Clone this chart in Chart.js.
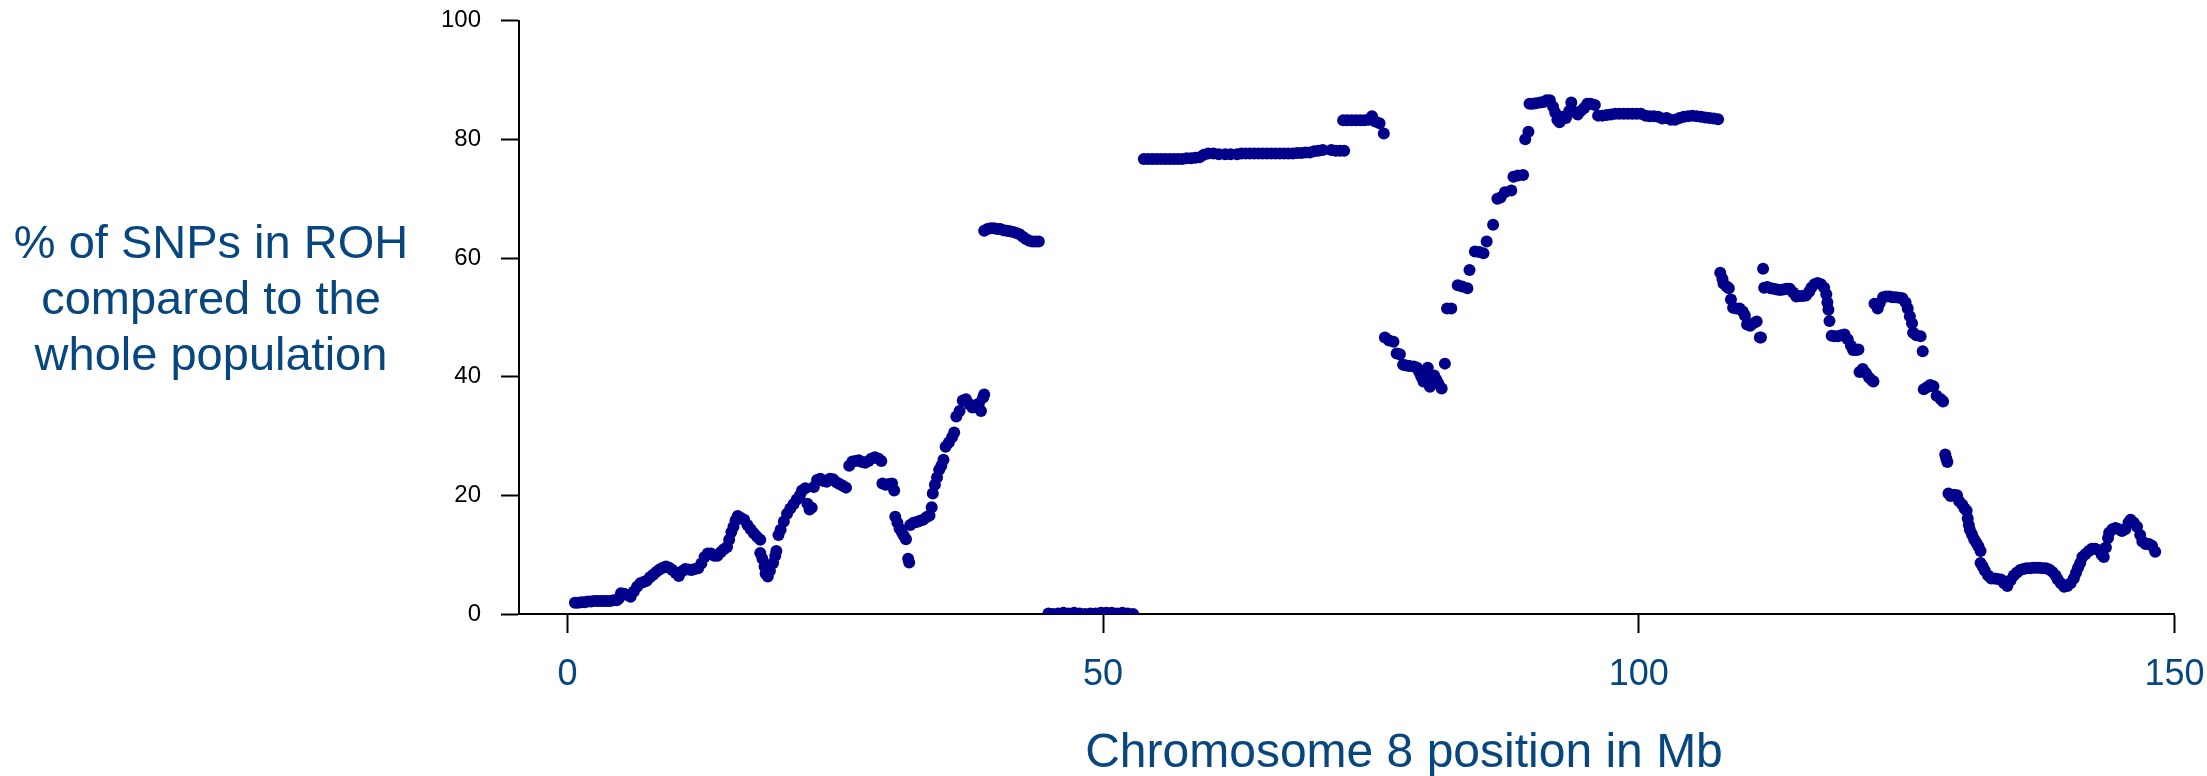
<!DOCTYPE html>
<html>
<head>
<meta charset="utf-8">
<script src="https://cdn.jsdelivr.net/npm/chart.js@4.4.1/dist/chart.umd.min.js"></script>
<style>
html, body { margin:0; padding:0; background:#fff; }
canvas { display:block; }
</style>
</head>
<body>
<canvas id="rohChart" width="2207" height="776"></canvas>
<script>
/* DATA: [position in Mb, % of SNPs in ROH] */
const snpPoints = [
  // 0 - 39 Mb
  [0.7,1.9],[1.0,1.9],[1.3,2.0],[1.6,2.0],[1.9,2.1],[2.2,2.1],[2.5,2.2],[2.8,2.2],[3.1,2.2],[3.4,2.2],
  [3.7,2.2],[4.0,2.2],[4.3,2.3],[4.6,2.3],[4.8,2.6],[5.0,3.5],[5.3,3.4],[5.6,3.2],[5.9,2.9],[6.2,3.8],
  [6.5,4.6],[6.8,5.2],[7.1,5.4],[7.4,5.6],[7.7,6.2],[8.0,6.6],[8.3,7.1],[8.6,7.5],[8.9,7.8],[9.2,8.0],
  [9.5,7.8],[9.8,7.4],[10.1,6.9],[10.4,6.4],[10.7,7.2],[11.0,7.6],[11.3,7.5],[11.6,7.4],[11.9,7.6],[12.2,7.7],
  [12.5,8.5],[12.8,9.6],[13.1,10.2],[13.4,10.2],[13.7,9.8],[14.0,9.8],[14.3,10.4],[14.6,10.9],[14.9,11.3],[15.1,12.5],
  [15.3,13.8],[15.5,14.7],[15.7,15.8],[15.9,16.5],[16.2,16.2],[16.5,15.9],[16.8,15.0],[17.1,14.3],[17.4,13.6],[17.7,13.0],
  [18.0,12.5],[18.0,10.3],[18.2,9.3],[18.4,8.0],[18.5,6.8],[18.7,6.3],[18.9,7.3],[19.2,8.6],[19.4,9.8],[19.5,10.6],
  [19.7,13.3],[19.9,14.2],[20.2,15.6],[20.5,16.9],[20.8,17.8],[21.1,18.5],[21.4,19.3],[21.7,20.0],[21.9,20.8],[22.2,21.2],
  [22.4,18.6],[22.6,17.6],[22.8,17.9],[23.0,21.4],[23.3,22.6],[23.6,22.8],[23.9,22.4],[24.2,22.3],[24.5,22.8],[24.8,22.7],
  [25.1,22.2],[25.4,21.9],[25.7,21.6],[26.0,21.3],[26.3,25.0],[26.6,25.7],[26.9,25.8],[27.2,25.9],[27.5,25.6],[27.8,25.5],
  [28.1,25.8],[28.4,26.2],[28.7,26.4],[29.0,26.2],[29.3,25.8],[29.4,22.0],[29.7,21.8],[30.0,21.9],[30.3,22.0],[30.5,20.8],
  [30.6,16.4],[30.8,15.4],[31.0,14.4],[31.2,13.8],[31.4,13.2],[31.6,12.6],[31.8,9.3],[31.9,8.7],[32.0,15.0],[32.3,15.4],
  [32.6,15.5],[32.9,15.7],[33.2,15.9],[33.5,16.3],[33.8,16.6],[34.0,18.0],[34.1,20.3],[34.3,21.8],[34.5,23.0],[34.7,24.3],
  [34.9,25.0],[35.1,26.0],[35.3,28.2],[35.6,28.9],[35.9,29.8],[36.1,30.6],[36.3,33.3],[36.6,34.2],[36.9,36.0],[37.2,36.2],
  [37.5,35.4],[37.8,34.8],[38.1,34.9],[38.4,35.5],[38.6,34.2],[38.8,36.5],[38.9,37.0],
  // 39 - 44 Mb
  [38.9,64.6],[39.2,64.9],[39.5,65.0],[39.8,65.0],[40.1,64.9],[40.4,64.9],[40.7,64.7],[41.0,64.6],[41.3,64.5],[41.6,64.4],
  [41.9,64.2],[42.2,64.0],[42.5,63.6],[42.8,63.2],[43.1,62.9],[43.4,62.8],[43.7,62.8],[44.0,62.8],
  // 45 - 53 Mb
  [44.9,0.1],[45.3,0.0],[45.8,0.1],[46.3,0.2],[46.8,0.1],[47.3,0.2],[47.8,0.1],[48.3,0.0],[48.8,0.1],[49.3,0.1],
  [49.8,0.2],[50.3,0.2],[50.8,0.2],[51.3,0.1],[51.8,0.2],[52.3,0.1],[52.8,0.0],
  // 54 - 76 Mb
  [53.8,76.7],[54.2,76.7],[54.6,76.7],[55.0,76.7],[55.4,76.7],[55.8,76.7],[56.2,76.7],[56.6,76.7],[57.0,76.7],[57.4,76.7],
  [57.8,76.8],[58.2,76.8],[58.6,76.9],[59.0,77.0],[59.4,77.4],[59.8,77.6],[60.3,77.6],[60.8,77.5],[61.4,77.5],[61.9,77.5],
  [62.5,77.5],[62.9,77.6],[63.3,77.6],[63.7,77.6],[64.1,77.6],[64.5,77.6],[64.9,77.6],[65.3,77.6],[65.7,77.6],[66.1,77.6],
  [66.5,77.6],[66.9,77.6],[67.3,77.6],[67.7,77.6],[68.1,77.7],[68.5,77.7],[68.9,77.8],[69.3,77.8],[69.7,78.0],[70.1,78.1],
  [70.5,78.2],[71.3,78.2],[71.7,78.1],[72.1,78.1],[72.5,78.1],
  [72.4,83.2],[72.8,83.2],[73.2,83.2],[73.6,83.2],[74.0,83.2],[74.4,83.2],[74.8,83.3],[75.1,83.9],[75.4,83.0],[75.8,82.7],
  [76.2,81.0],
  // 76 - 90 Mb
  [76.3,46.6],[76.7,46.1],[77.1,45.9],[77.4,43.9],[77.7,43.8],[78.0,42.0],[78.3,41.9],[78.6,41.8],[79.0,41.7],[79.3,41.5],
  [79.5,40.8],[79.7,40.0],[79.9,39.2],[80.1,40.6],[80.3,41.5],[80.4,39.5],[80.5,38.3],[80.7,39.0],[80.9,40.2],[81.1,39.5],
  [81.3,38.8],[81.6,38.0],[81.9,42.2],
  [82.1,51.5],[82.5,51.5],[83.1,55.4],[83.5,55.2],[84.0,54.9],[84.2,58.0],[84.7,61.1],[85.1,61.0],[85.5,60.8],[85.8,62.8],
  [86.4,65.6],[86.8,70.0],[87.1,70.2],[87.5,71.1],[88.1,71.4],[88.3,73.7],[88.7,73.9],[89.2,74.0],[89.4,80.0],[89.7,81.3],
  [89.8,86.0],
  // 90 - 107 Mb
  [90.1,86.0],[90.4,86.1],[90.8,86.2],[91.1,86.3],[91.4,86.6],[91.7,86.6],[92.0,85.5],[92.2,84.5],[92.4,83.3],[92.6,82.9],
  [92.9,83.8],[93.2,83.6],[93.5,84.8],[93.7,86.2],[94.0,84.6],[94.3,84.2],[94.6,84.8],[94.9,85.3],[95.2,86.0],[95.5,86.0],
  [95.9,85.8],[96.2,84.0],[96.6,84.0],[97.0,84.1],[97.4,84.2],[97.8,84.3],[98.2,84.3],[98.6,84.3],[99.0,84.3],[99.4,84.3],
  [99.8,84.3],[100.2,84.3],[100.6,84.0],[101.0,83.9],[101.4,83.9],[101.8,83.8],[102.2,83.5],[102.6,83.6],[103.0,83.3],[103.4,83.3],
  [103.8,83.6],[104.2,83.8],[104.6,83.9],[105.0,84.0],[105.4,83.9],[105.8,83.8],[106.2,83.7],[106.6,83.6],[107.0,83.5],[107.4,83.4],
  // 107 - 128 Mb
  [107.6,57.5],[107.8,56.5],[107.9,55.7],[108.2,55.2],[108.4,54.9],[108.6,53.0],[108.8,51.6],[109.1,51.5],[109.4,51.5],[109.7,51.0],
  [109.9,50.3],[110.1,48.8],[110.4,48.6],[110.7,49.0],[111.0,49.3],[111.3,46.6],[111.4,46.6],
  [111.6,58.2],[111.7,55.0],[112.0,55.1],[112.3,54.9],[112.6,54.8],[112.9,54.7],[113.2,54.6],[113.5,54.7],[113.8,54.8],[114.1,54.8],
  [114.4,54.2],[114.7,53.5],[115.0,53.6],[115.3,53.6],[115.6,53.7],[115.9,54.3],[116.1,55.0],[116.4,55.6],[116.7,55.8],[117.0,55.6],
  [117.3,55.0],[117.5,53.9],[117.6,52.5],[117.7,51.3],[117.8,49.4],[118.0,46.9],[118.3,46.8],[118.6,46.8],[118.9,47.0],[119.2,47.1],
  [119.5,46.3],[119.8,45.2],[120.0,44.5],[120.3,44.5],[120.5,44.6],[120.6,40.8],[120.9,41.3],[121.2,40.6],[121.5,39.8],[121.8,39.3],
  [121.9,39.2],
  [122.0,52.3],[122.3,51.5],[122.5,52.4],[122.8,53.4],[123.1,53.5],[123.4,53.5],[123.7,53.4],[124.0,53.4],[124.3,53.3],[124.6,53.2],
  [124.9,52.5],[125.1,51.5],[125.3,50.2],[125.5,49.0],[125.6,47.4],[125.9,47.0],[126.3,46.8],[126.5,44.3],[126.6,37.9],[126.9,38.2],
  [127.2,38.6],[127.5,38.4],[127.8,36.8],[128.2,36.2],[128.4,35.8],
  // 128 - 148 Mb
  [128.6,26.9],[128.7,26.2],[128.8,25.6],[128.9,20.3],[129.1,19.9],[129.4,20.1],[129.7,20.0],[129.9,19.0],[130.2,18.4],[130.4,17.8],
  [130.6,17.4],[130.7,16.1],[130.8,15.0],[130.9,14.2],[131.1,13.4],[131.3,12.6],[131.5,12.0],[131.7,11.4],[131.9,10.6],[131.9,8.6],
  [132.1,8.0],[132.3,7.3],[132.6,6.5],[132.9,6.0],[133.2,6.0],[133.5,5.9],[133.8,5.8],[134.1,5.2],[134.4,4.7],[134.7,5.7],
  [135.0,6.5],[135.3,7.0],[135.6,7.4],[135.9,7.6],[136.2,7.7],[136.5,7.7],[136.8,7.8],[137.1,7.8],[137.4,7.8],[137.7,7.7],
  [138.0,7.7],[138.3,7.5],[138.6,7.1],[138.9,6.5],[139.1,5.8],[139.4,5.2],[139.7,4.6],[140.0,4.7],[140.3,5.2],[140.6,6.0],
  [140.8,6.9],[141.0,7.8],[141.2,8.6],[141.4,9.6],[141.7,10.1],[142.0,10.6],[142.3,11.0],[142.6,11.0],[142.9,10.8],[143.2,10.0],
  [143.4,9.6],[143.6,11.2],[143.8,12.8],[143.9,13.7],[144.2,14.3],[144.5,14.5],[144.8,14.3],[145.1,14.0],[145.4,14.3],[145.7,15.4],
  [145.9,15.9],[146.2,15.4],[146.5,14.7],[146.8,13.3],[147.0,12.2],[147.3,11.8],[147.6,11.8],[147.9,11.5],[148.2,10.5]
];

const xTicks = [0, 50, 100, 150];
const yTicks = [0, 20, 40, 60, 80, 100];
const xTitle = "Chromosome 8 position in Mb";
const yTitle = ["% of SNPs in ROH", "compared to the", "whole population"];

const TITLE_BLUE = "#07467e";
const FONT = '"Liberation Sans", Arial, Helvetica, sans-serif';

Chart.defaults.font.family = FONT;

/* titles drawn as plain lines of text, like the original R plot */
const axisTitles = {
  id: "axisTitles",
  afterDraw(chart) {
    const ctx = chart.ctx;
    ctx.save();
    ctx.fillStyle = TITLE_BLUE;
    ctx.textAlign = "center";
    ctx.textBaseline = "alphabetic";
    ctx.font = "47px " + FONT;
    yTitle.forEach((line, i) => ctx.fillText(line, 211, 258 + i * 56));
    ctx.font = "48px " + FONT;
    ctx.fillText(xTitle, 1404, 767);
    ctx.restore();
  }
};

new Chart(document.getElementById("rohChart"), {
  type: "scatter",
  data: {
    datasets: [{
      data: snpPoints.map(p => ({ x: p[0], y: p[1] })),
      backgroundColor: "#00008b",
      borderWidth: 0,
      pointRadius: 6,
      pointHoverRadius: 6,
      clip: 0
    }]
  },
  options: {
    responsive: false,
    animation: false,
    devicePixelRatio: 1,
    layout: { padding: { left: 419, right: 32.5, top: 20.7, bottom: 0 } },
    plugins: { legend: { display: false }, tooltip: { enabled: false } },
    scales: {
      x: {
        type: "linear",
        min: -4.52,
        max: 150,
        afterBuildTicks: s => { s.ticks = xTicks.map(v => ({ value: v })); },
        afterFit: s => { s.height = 162; s.paddingLeft = 0; s.paddingRight = 0; },
        grid: { drawOnChartArea: false, drawTicks: true, tickLength: 19, tickWidth: 2, color: "#000" },
        border: { display: true, color: "#000", width: 2 },
        ticks: { color: TITLE_BLUE, font: { size: 36 }, padding: 20, maxRotation: 0, autoSkip: false }
      },
      y: {
        min: 0,
        max: 100,
        afterBuildTicks: s => { s.ticks = yTicks.map(v => ({ value: v })); },
        afterFit: s => { s.width = 100; s.paddingTop = 0; s.paddingBottom = 0; },
        grid: { drawOnChartArea: false, drawTicks: true, tickLength: 18, tickWidth: 2, color: "#000" },
        border: { display: true, color: "#000", width: 2 },
        ticks: { color: "#000", font: { size: 24 }, padding: 20 }
      }
    }
  },
  plugins: [axisTitles]
});
</script>
</body>
</html>
